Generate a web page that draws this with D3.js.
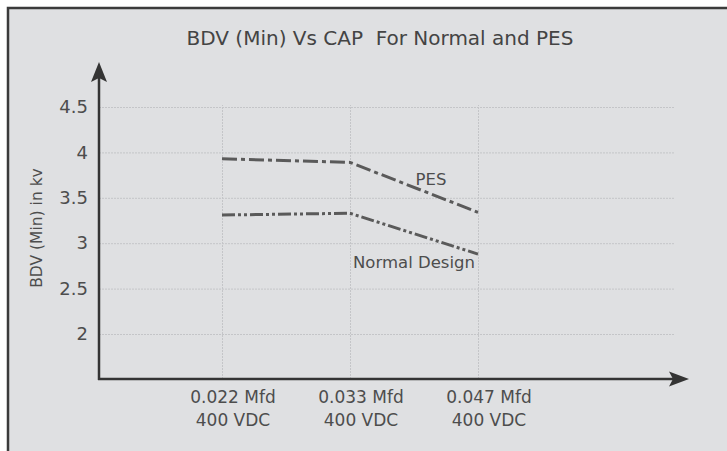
<!DOCTYPE html>
<html>
<head>
<meta charset="utf-8">
<script src="https://cdn.jsdelivr.net/npm/d3@7"></script>
<style>
  html, body { margin: 0; padding: 0; background: #ffffff; }
  svg { display: block; }
  text { font-family: "DejaVu Sans", sans-serif; }
</style>
</head>
<body>
<svg id="chart" width="727" height="451"></svg>
<script>
// ---- data ----
const capLabels = ["0.022 Mfd", "0.033 Mfd", "0.047 Mfd"];
const voltLabels = ["400 VDC", "400 VDC", "400 VDC"];
const pesValues = [3.93, 3.89, 3.34];
const normalValues = [3.31, 3.33, 2.88];
const yTicks = [2, 2.5, 3, 3.5, 4, 4.5];
const yTickLabels = ["2", "2.5", "3", "3.5", "4", "4.5"];
const titleText = "BDV (Min) Vs CAP\u00A0\u00A0For Normal and PES";
const yAxisTitle = "BDV (Min) in kv";
const seriesNames = ["PES", "Normal Design"];

// ---- layout ----
const svg = d3.select("#chart");
const W = 727, H = 451;
const axisX = 99, axisY = 379, gridRight = 675;
const textColor = "#4d4d4d";

svg.append("rect")
  .attr("x", 8).attr("y", 8).attr("width", W + 20).attr("height", H + 20)
  .attr("fill", "#dfe0e2").attr("stroke", "#3b3b3b").attr("stroke-width", 2.5);

const x = d3.scalePoint().domain(capLabels).range([222, 478]);
const y = d3.scaleLinear().domain([2, 4.5]).range([334, 107]);

// horizontal grid
svg.append("g")
  .attr("transform", `translate(${axisX},0)`)
  .call(d3.axisLeft(y).tickValues(yTicks).tickSize(-(gridRight - axisX)).tickFormat(""))
  .call(g => g.select(".domain").remove())
  .call(g => g.selectAll(".tick line").attr("stroke", "#c4c5c8").attr("stroke-width", 1).attr("stroke-dasharray", "2,1"));

// vertical grid
svg.append("g")
  .attr("transform", `translate(0,${axisY})`)
  .call(d3.axisBottom(x).tickSize(-(axisY - 105)).tickFormat(""))
  .call(g => g.select(".domain").remove())
  .call(g => g.selectAll(".tick line").attr("stroke", "#c4c5c8").attr("stroke-width", 1).attr("stroke-dasharray", "2,1"));

// y tick labels
svg.append("g")
  .attr("transform", `translate(${axisX},0)`)
  .call(d3.axisLeft(y).tickValues(yTicks).tickSize(0).tickPadding(11)
        .tickFormat((d, i) => yTickLabels[i]))
  .call(g => g.select(".domain").remove())
  .call(g => g.selectAll(".tick text").attr("fill", textColor).style("font-size", "18px")
        .style("font-family", "'DejaVu Sans', sans-serif"));

// x tick labels
const xl = svg.append("g");
capLabels.forEach((c, i) => {
  const t = xl.append("text")
    .attr("text-anchor", "middle")
    .attr("fill", textColor)
    .style("font-size", "17px");
  t.append("tspan").attr("x", x(c) + 11).attr("y", 403).text(c);
  t.append("tspan").attr("x", x(c) + 11).attr("y", 426).text(voltLabels[i]);
});

// axes with arrows
const axisColor = "#343434";
svg.append("line").attr("x1", axisX).attr("x2", axisX).attr("y1", axisY + 1).attr("y2", 75)
  .attr("stroke", axisColor).attr("stroke-width", 2.5);
svg.append("path")
  .attr("d", `M${axisX},62 L${axisX + 8},82 L${axisX},78 L${axisX - 8},82 Z`)
  .attr("fill", axisColor);
svg.append("line").attr("x1", axisX - 1).attr("x2", 678).attr("y1", axisY).attr("y2", axisY)
  .attr("stroke", axisColor).attr("stroke-width", 2.5);
svg.append("path")
  .attr("d", `M689,${axisY} L669,${axisY - 7.5} L673,${axisY} L669,${axisY + 7.5} Z`)
  .attr("fill", axisColor);

// series lines
const line = d3.line().x(d => x(d[0])).y(d => y(d[1]));
const pes = capLabels.map((c, i) => [c, pesValues[i]]);
const normal = capLabels.map((c, i) => [c, normalValues[i]]);

svg.append("path").datum(pes)
  .attr("d", line).attr("fill", "none")
  .attr("stroke", "#5a5a5a").attr("stroke-width", 3)
  .attr("stroke-dasharray", "15,4,4,4");
svg.append("path").datum(normal)
  .attr("d", line).attr("fill", "none")
  .attr("stroke", "#5a5a5a").attr("stroke-width", 3)
  .attr("stroke-dasharray", "13,3,3,3,3,3");

// series labels
svg.append("text").attr("x", x(capLabels[2]) - 47).attr("y", y(pesValues[1]) + 23)
  .attr("text-anchor", "middle").attr("fill", textColor).style("font-size", "16.5px")
  .text(seriesNames[0]);
svg.append("text").attr("x", x(capLabels[2]) - 64).attr("y", y(normalValues[2]) + 14)
  .attr("text-anchor", "middle").attr("fill", textColor).style("font-size", "16.5px")
  .text(seriesNames[1]);

// title
svg.append("text").attr("x", 380).attr("y", 45).attr("text-anchor", "middle")
  .attr("fill", "#444").style("font-size", "20px").text(titleText);

// y axis title
svg.append("text")
  .attr("transform", `translate(42,228) rotate(-90)`)
  .attr("text-anchor", "middle").attr("fill", textColor).style("font-size", "15.5px")
  .text(yAxisTitle);
</script>
</body>
</html>
